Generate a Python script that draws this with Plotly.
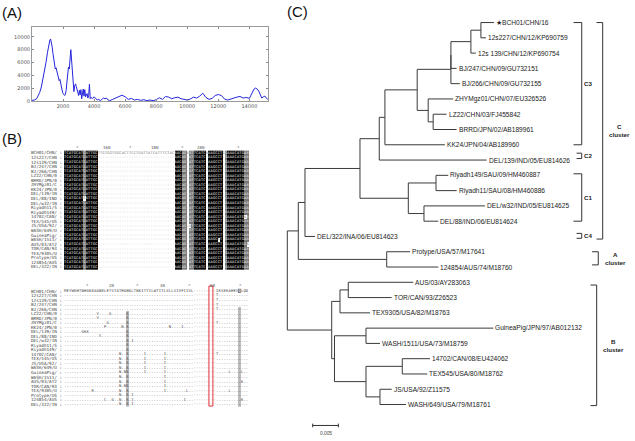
import plotly.graph_objects as go

FIG_W, FIG_H = 635, 441

# ---------------- (A) profile ----------------
profile = [
    (0, 150), (150, 200), (300, 400), (400, 800), (500, 1400), (600, 2200), (700, 3300),
    (800, 4500), (900, 6000), (1000, 7600), (1050, 8500), (1100, 9000), (1150, 9500),
    (1200, 9650), (1250, 9200), (1300, 8400), (1350, 7400), (1400, 6600), (1450, 5600),
    (1500, 5000), (1550, 5200), (1600, 4600), (1650, 4100), (1700, 3600), (1750, 3200),
    (1800, 3400), (1850, 2600), (1900, 2000), (1950, 1600), (2000, 1200), (2050, 1000),
    (2100, 900), (2150, 1100), (2200, 1700), (2250, 3000), (2300, 4500), (2350, 5300),
    (2400, 5000), (2450, 6200), (2500, 8000), (2550, 6400), (2600, 4300), (2650, 2700),
    (2700, 1500), (2750, 2400), (2800, 2700), (2850, 2300), (2900, 2000), (2950, 1400),
    (3000, 900), (3050, 1700), (3100, 1000), (3150, 1800), (3200, 400), (3250, 1400),
    (3300, 1900), (3350, 800), (3400, 1800), (3450, 700), (3500, 900), (3550, 1200),
    (3600, 500), (3650, 900), (3700, 2650), (3750, 400), (3800, 600), (3900, 400),
    (4000, 700), (4100, 400), (4200, 200), (4300, 300), (4400, 100), (4500, 300),
    (4600, 500), (4700, 400), (4800, 500), (4900, 200), (5000, 100), (5200, 300),
    (5400, 500), (5600, 700), (5800, 950), (6000, 700), (6200, 300), (6400, 450),
    (6600, 200), (6800, 300), (7000, 150), (7200, 250), (7400, 100), (7600, 200),
    (7800, 100), (8000, 250), (8200, 550), (8400, 300), (8600, 750), (8800, 650),
    (9000, 400), (9200, 550), (9400, 650), (9600, 400), (9800, 300), (10000, 200),
    (10200, 350), (10400, 650), (10600, 500), (10800, 800), (11000, 1250), (11200, 600),
    (11400, 300), (11600, 450), (11800, 900), (12000, 1050), (12200, 900), (12400, 350),
    (12600, 200), (12800, 400), (13000, 500), (13200, 650), (13400, 750), (13600, 500),
    (13800, 600), (14000, 450), (14200, 1500), (14300, 1900), (14400, 2050), (14500, 1900),
    (14600, 1600), (14800, 500), (14900, 700), (15000, 800), (15100, 500), (15200, 250),
]
profile_xticks = [2000, 4000, 6000, 8000, 10000, 12000, 14000]
profile_yticks = [0, 2000, 4000, 6000, 8000, 10000]

# ---------------- (B) alignments ----------------
aln_names = ["BCH01/CHN/", "12s227/CHN", "12s139/CHN", "BJ/247/CHN", "BJ/266/CHN",
             "LZ22/CHN/0", "BRRD/JPN/0", "ZHYMgz01/C", "KK24/JPN/0", "DEL/139/IN",
             "DEL/88/IND", "DEL/w32/IN", "Riyadh11/S", "Riyadh149/", "14702/CAN/",
             "TEX/545/US", "JS/USA/92/", "WASH/649/U", "GuineaPig/", "WASH/1511/",
             "AUS/03/AY2", "TOR/CAN/93", "TEX/9305/U", "Protype/US", "124854/AUS",
             "DEL/322/IN"]
# column shading of the nucleotide alignment: B black, G grey, L light grey, W white
top_shade = ("BBBBBBBBGBBBBB" + "WWWWWWWWWWWWWWWWWWWWWWWWWWWWWWWW"
             + "BBBGGWGGBBBBBWBBBBBBWGBBBBBBBGG")
top_ref = ("TCATGCATGATTGC" + "TTGTGGTGGCACTTCCTGATTATCATTTCTAC"
           + "AACAGAATTCATCAAAGCCTGGAAACATGAA")
top_shade_variants = [(10, 8, "W"), (14, 51, "W"), (15, 51, "W"), (16, 52, "W"),
                      (19, 64, "W"), (22, 59, "W"), (14, 75, "W"), (20, 76, "W")]
top_ruler = [("*", 5.3), ("160", 17.4), ("*", 27.4), ("180", 37.4), ("*", 48.7),
             ("200", 56.6), ("*", 72.4)]

bot_ref = ("MEYWKHTNHGKDAGNELETSTATHGNKLTNKITYILWTITLVLLSIVFIIVL" + "---------"
           + "IKSEKAHESQLQD")
bot_variants = [(1, 61, "T"), (2, 61, "T"), (3, 61, "T"), (4, 61, "T"), (7, 61, "T"),
                (5, 13, "V"), (5, 18, "G"), (6, 13, "V"), (7, 17, "G"),
                (8, 16, "P"), (8, 23, "N"), (8, 42, "N"), (8, 47, "I"),
                (9, 7, "G"), (9, 8, "K"), (9, 9, "K"), (10, 14, "S"), (11, 27, "I"),
                (14, 22, "N"), (14, 32, "I"), (14, 40, "I"), (14, 61, "T"),
                (15, 22, "N"), (15, 32, "I"), (15, 40, "I"),
                (16, 22, "N"), (16, 32, "I"), (16, 40, "I"),
                (17, 22, "N"), (17, 32, "I"), (17, 40, "I"),
                (18, 22, "N"), (18, 24, "N"), (18, 32, "I"), (18, 40, "I"), (18, 66, "L"), (18, 71, "L"),
                (19, 22, "N"), (19, 40, "I"), (20, 22, "N"), (20, 40, "I"), (20, 71, "K"),
                (21, 22, "N"), (21, 24, "N"), (21, 40, "I"),
                (22, 11, "R"), (22, 22, "N"), (22, 40, "I"), (22, 49, "L"), (22, 66, "L"),
                (23, 22, "N"), (23, 27, "I"),
                (24, 16, "C"), (24, 19, "G"), (24, 22, "N"), (24, 27, "I"), (24, 48, "I"), (24, 71, "K"),
                (25, 22, "N"), (25, 27, "I")]
bot_shade_cols = [(25, 5, 25, "S"), (70, 4, 25, ".")]   # (column, first row, last row, residue)
bot_ruler = [("*", 9.1), ("20", 18.8), ("*", 29.2), ("40", 39.3), ("*", 50.1),
             ("60", 59.3), ("*", 70.2)]
highlight_col = 58

# ---------------- (C) tree ----------------
tree_nodes = [  # (node, parent, branch length in substitutions/site)
    ("root", None, 0.0),
    ("nX", "root", 0.00214),
    ("nM", "nX", 0.00130),
    ("nL", "nM", 0.01070),
    ("nH", "nL", 0.00375),
    ("nG", "nH", 0.00110),
    ("nF", "nG", 0.00628),
    ("nC", "nF", 0.00656),
    ("nC2", "nC", 0.0),
    ("nB", "nC2", 0.00389),
    ("nA", "nB", 0.00195),
    ("★BCH01/CHN/16", "nA", 0.00253),
    ("12s227/CHN/12/KP690759", "nA", 0.00097),
    ("12s 139/CHN/12/KP690754", "nB", 0.00097),
    ("BJ/247/CHN/09/GU732151", "nC2", 0.00111),
    ("BJ/266/CHN/09/GU732155", "nC", 0.00175),
    ("nD", "nF", 0.00214),
    ("ZHYMgz01/CHN/07/EU326526", "nD", 0.00486),
    ("nE", "nD", 0.00097),
    ("LZ22/CHN/03/FJ455842", "nE", 0.00261),
    ("BRRD/JPN/02/AB189961", "nE", 0.00455),
    ("KK24/JPN/04/AB189960", "nG", 0.01167),
    ("DEL/139/IND/05/EU814626", "nH", 0.02090),
    ("nK", "nL", 0.00940),
    ("nI", "nK", 0.00539),
    ("Riyadh149/SAU/09/HM460887", "nI", 0.00239),
    ("Riyadh11/SAU/08/HM460886", "nI", 0.00403),
    ("nJ", "nK", 0.00305),
    ("DEL/w32/IND/05/EU814625", "nJ", 0.01187),
    ("DEL/88/IND/06/EU814624", "nJ", 0.00278),
    ("DEL/322/INA/06/EU814623", "nM", 0.00195),
    ("nN", "nX", 0.01720),
    ("Protype/USA/57/M17641", "nN", 0.00453),
    ("124854/AUS/74/M18760", "nN", 0.01004),
    ("nW", "root", 0.00864),
    ("nQ", "nW", 0.00161),
    ("nP", "nQ", 0.00161),
    ("AUS/03/AY283063", "nP", 0.01265),
    ("TOR/CAN/93/Z26523", "nP", 0.00844),
    ("TEX9305/USA/82/M18763", "nQ", 0.00584),
    ("nV", "nW", 0.00054),
    ("nR", "nV", 0.00613),
    ("GuineaPig/JPN/97/AB012132", "nR", 0.02477),
    ("WASH/1511/USA/73/M18759", "nR", 0.00272),
    ("nU", "nV", 0.00613),
    ("nS", "nU", 0.00706),
    ("14702/CAN/08/EU424062", "nS", 0.00539),
    ("TEX545/USA/80/M18762", "nS", 0.00486),
    ("nT", "nU", 0.00272),
    ("JS/USA/92/Z11575", "nT", 0.00228),
    ("WASH/649/USA/79/M18761", "nT", 0.00506),
]
# brackets: (label, first row, last row, x in subs/site, tick length)
clade_brackets = [("C3", 0, 8, 0.05728, 0.00160), ("C2", 8.55, 8.90, 0.05728, 0.00100),
                  ("C1", 9.9, 13.0, 0.05728, 0.00160), ("C4", 13.8, 14.12, 0.05728, 0.00100)]
cluster_brackets = [("C", 0, 14.17, 0.06136), ("A", 15.0, 15.86, 0.06050),
                    ("B", 17.18, 25.07, 0.06019)]
scale_len = 0.005
scale_start = 0.00494
scale_row = 26.37

# ---------------- geometry helpers (pixel layout) ----------------
def pxx(px):
    return px / FIG_W


def pxy(py):
    return 1 - py / FIG_H


T_ROOT_PX, T_PX_PER_UNIT = 287.3, 5140.0
T_ROW0_PX, T_ROW_STEP = 22.7, 15.384
T_LEFT_PX = 285.0

A1_X0, A1_CW, A1_Y0, A1_RH = 64.0, 2.4, 154.0, 4.59
A2_X0, A2_CW, A2_Y0, A2_RH = 64.0, 2.49, 293.0, 4.56

fig = go.Figure()

# ---- (A) ----
fig.add_trace(go.Scatter(x=[p[0] for p in profile], y=[p[1] for p in profile],
                         mode="lines", line=dict(color="#2525dc", width=1),
                         xaxis="x", yaxis="y", hoverinfo="skip"))

# ---- (B) alignments ----
lvl = {"W": 0, "L": 1, "G": 2, "B": 3}
nrows = len(aln_names)
top_z = [[lvl[ch] for ch in top_shade] for _ in range(nrows)]
for r, c, ch in top_shade_variants:
    top_z[r][c] = lvl[ch]
tx, ty, tt, tc = [], [], [], []
for r in range(nrows):
    for c, ch in enumerate(top_ref):
        if r > 0 and top_shade[c] == "W":
            ch = "-"
        tx.append(c); ty.append(r); tt.append(ch)
        z = top_z[r][c]
        tc.append("#f2f2f2" if z >= 2 else ("#222" if z == 1 else "#707070"))

cscale = [[0, "#ffffff"], [0.166, "#ffffff"], [0.166, "#bdbdbd"], [0.5, "#bdbdbd"],
          [0.5, "#777777"], [0.833, "#777777"], [0.833, "#050505"], [1, "#050505"]]
fig.add_trace(go.Heatmap(z=top_z, x=list(range(len(top_shade))), y=list(range(nrows)),
                         colorscale=cscale, zmin=0, zmax=3, showscale=False,
                         xaxis="x2", yaxis="y2", hoverinfo="skip"))
fig.add_trace(go.Scatter(x=tx, y=ty, text=tt, mode="text",
                         textfont=dict(family="DejaVu Sans Mono", size=3.6, color=tc),
                         xaxis="x2", yaxis="y2", hoverinfo="skip"))

ncols2 = len(bot_ref)
bot_z = [[0] * ncols2 for _ in range(nrows)]
bot_txt = []
for r in range(nrows):
    row = list(bot_ref) if r == 0 else ["-" if ch == "-" else "." for ch in bot_ref]
    bot_txt.append(row)
for col, r0, r1, ch in bot_shade_cols:
    for r in range(r0, r1 + 1):
        bot_z[r][col] = 1
        bot_txt[r][col] = ch
bot_z[0][70] = 2
for r, c, ch in bot_variants:
    bot_txt[r][c] = ch
bx, by, bt, bc = [], [], [], []
for r in range(nrows):
    for c in range(ncols2):
        bx.append(c); by.append(r); bt.append(bot_txt[r][c])
        z = bot_z[r][c]
        bc.append("#ffffff" if z == 2 else ("#111" if z == 1 else "#3c3c3c"))
fig.add_trace(go.Heatmap(z=bot_z, x=list(range(ncols2)), y=list(range(nrows)),
                         colorscale=cscale, zmin=0, zmax=3, showscale=False,
                         xaxis="x3", yaxis="y3", hoverinfo="skip"))
fig.add_trace(go.Scatter(x=bx, y=by, text=bt, mode="text",
                         textfont=dict(family="DejaVu Sans Mono", size=3.8, color=bc),
                         xaxis="x3", yaxis="y3", hoverinfo="skip"))

# ---- (C) tree ----
names = [n for n, p, l in tree_nodes]
par = {n: p for n, p, l in tree_nodes}
kids = {n: [] for n in names}
for n, p, l in tree_nodes:
    if p is not None:
        kids[p].append(n)
xpos = {}
for n, p, l in tree_nodes:
    xpos[n] = 0.0 if p is None else xpos[p] + l
ypos = {}
counter = [0]


def place(n):
    if not kids[n]:
        ypos[n] = counter[0]
        counter[0] += 1
    else:
        for k in kids[n]:
            place(k)
        ypos[n] = (ypos[kids[n][0]] + ypos[kids[n][-1]]) / 2


place("root")
lx, ly = [], []
for n in names:
    p = par[n]
    if p is not None:
        lx += [xpos[p], xpos[n], None]
        ly += [ypos[n], ypos[n], None]
    if kids[n]:
        ys = [ypos[k] for k in kids[n]]
        lx += [xpos[n], xpos[n], None]
        ly += [min(ys), max(ys), None]
fig.add_trace(go.Scatter(x=lx, y=ly, mode="lines", line=dict(color="#3a3a3a", width=1),
                         xaxis="x4", yaxis="y4", hoverinfo="skip"))

bkx, bky = [], []
for lab, a, b, x, tk in clade_brackets:
    bkx += [x - tk, x, x, x - tk, None]
    bky += [a, a, b, b, None]
for lab, a, b, x in cluster_brackets:
    tk = 0.00120
    bkx += [x - tk, x, x, x - tk, None]
    bky += [a, a, b, b, None]
fig.add_trace(go.Scatter(x=bkx, y=bky, mode="lines", line=dict(color="#333", width=1),
                         xaxis="x4", yaxis="y4", hoverinfo="skip"))
fig.add_trace(go.Scatter(
    x=[scale_start, scale_start + scale_len, None, scale_start, scale_start, None,
       scale_start + scale_len, scale_start + scale_len],
    y=[scale_row, scale_row, None, scale_row - 0.12, scale_row + 0.12, None,
       scale_row - 0.12, scale_row + 0.12],
    mode="lines", line=dict(color="#333", width=1), xaxis="x4", yaxis="y4",
    hoverinfo="skip"))

ann = []
LBL = "Liberation Sans, Arial, sans-serif"
for n in names:
    if not kids[n]:
        ann.append(dict(x=xpos[n], y=ypos[n], xref="x4", yref="y4", text=n,
                        showarrow=False, xanchor="left", yanchor="middle",
                        font=dict(family=LBL, size=6.6, color="#222")))
for lab, a, b, x, tk in clade_brackets:
    ann.append(dict(x=x, y=(a + b) / 2, xref="x4", yref="y4", text="<b>%s</b>" % lab,
                    showarrow=False, xanchor="left", yanchor="middle",
                    font=dict(family=LBL, size=6.2, color="#222")))
for lab, a, b, x in cluster_brackets:
    ann.append(dict(x=x + 17 / T_PX_PER_UNIT, y=(a + b) / 2, xref="x4", yref="y4",
                    text="<b>%s<br>cluster</b>" % lab, showarrow=False,
                    xanchor="center", yanchor="middle", align="center",
                    font=dict(family=LBL, size=6.2, color="#222")))
ann.append(dict(x=scale_start + scale_len / 2, y=scale_row + 0.55, xref="x4", yref="y4",
                text="0.005", showarrow=False, xanchor="center", yanchor="middle",
                font=dict(family=LBL, size=4.8, color="#444")))

MONO = "DejaVu Sans Mono, monospace"
for r, nm in enumerate(aln_names):
    ann.append(dict(x=-0.55, y=r, xref="x2", yref="y2", text=nm + " :", showarrow=False,
                    xanchor="right", yanchor="middle",
                    font=dict(family=MONO, size=4.3, color="#444")))
    ann.append(dict(x=-0.55, y=r, xref="x3", yref="y3", text=nm + " :", showarrow=False,
                    xanchor="right", yanchor="middle",
                    font=dict(family=MONO, size=4.3, color="#444")))
for lab, c in top_ruler:
    ann.append(dict(x=c, y=-1.3, xref="x2", yref="y2", text=lab, showarrow=False,
                    xanchor="center", yanchor="middle",
                    font=dict(family=MONO, size=4.2, color="#555")))
for lab, c in bot_ruler:
    ann.append(dict(x=c, y=-1.3, xref="x3", yref="y3", text=lab, showarrow=False,
                    xanchor="center", yanchor="middle",
                    font=dict(family=MONO, size=4.2, color="#555")))

for lab, x, y in [("(A)", 0, 13), ("(B)", 0, 139), ("(C)", 285, 12)]:
    ann.append(dict(x=pxx(x), y=pxy(y), xref="paper", yref="paper", text=lab,
                    showarrow=False, xanchor="left", yanchor="middle",
                    font=dict(family=LBL, size=15, color="#111")))

shapes = [dict(type="rect", xref="x3", yref="y3",
               x0=highlight_col - 0.3, x1=highlight_col + 1.3, y0=-1.1, y1=nrows - 0.6,
               line=dict(color="#e0303a", width=1), fillcolor="rgba(0,0,0,0)")]


def rng_x(x0px, cw, px):
    return (px - x0px) / cw - 0.5


def rng_y(y0px, rh, py):
    return (py - y0px) / rh


hidden = dict(visible=False, showgrid=False, zeroline=False, fixedrange=True)
axfont = dict(family="DejaVu Sans", size=5, color="#555")
fig.update_layout(
    width=FIG_W, height=FIG_H, margin=dict(l=0, r=0, t=0, b=0),
    paper_bgcolor="white", plot_bgcolor="rgba(0,0,0,0)", showlegend=False,
    xaxis=dict(domain=[pxx(32), pxx(268)], range=[0, 15200], tickvals=profile_xticks,
               tickformat="d", ticks="inside", ticklen=2, tickcolor="#888",
               showline=True, mirror="ticks", linecolor="#9a9a9a", linewidth=1,
               showgrid=False, zeroline=False, tickfont=axfont, anchor="y"),
    yaxis=dict(domain=[pxy(102), pxy(27)], range=[0, 11550], tickvals=profile_yticks,
               tickformat="d", ticks="inside", ticklen=2, tickcolor="#888",
               showline=True, mirror="ticks", linecolor="#9a9a9a", linewidth=1,
               showgrid=False, zeroline=False, tickfont=axfont, anchor="x"),
    xaxis2=dict(hidden, domain=[0, pxx(250)], anchor="y2",
                range=[rng_x(A1_X0, A1_CW, 0), rng_x(A1_X0, A1_CW, 250)]),
    yaxis2=dict(hidden, domain=[pxy(276), pxy(140)], anchor="x2",
                range=[rng_y(A1_Y0, A1_RH, 276), rng_y(A1_Y0, A1_RH, 140)]),
    xaxis3=dict(hidden, domain=[0, pxx(250)], anchor="y3",
                range=[rng_x(A2_X0, A2_CW, 0), rng_x(A2_X0, A2_CW, 250)]),
    yaxis3=dict(hidden, domain=[pxy(418), pxy(280)], anchor="x3",
                range=[rng_y(A2_Y0, A2_RH, 418), rng_y(A2_Y0, A2_RH, 280)]),
    xaxis4=dict(hidden, domain=[pxx(T_LEFT_PX), 1], anchor="y4",
                range=[(T_LEFT_PX - T_ROOT_PX) / T_PX_PER_UNIT,
                       (FIG_W - T_ROOT_PX) / T_PX_PER_UNIT]),
    yaxis4=dict(hidden, domain=[0, 1], anchor="x4",
                range=[(FIG_H - T_ROW0_PX) / T_ROW_STEP, -T_ROW0_PX / T_ROW_STEP]),
    annotations=ann, shapes=shapes,
)

fig.write_html("out.html", config={"displayModeBar": False},
               post_script="document.body.style.margin='0px';")
